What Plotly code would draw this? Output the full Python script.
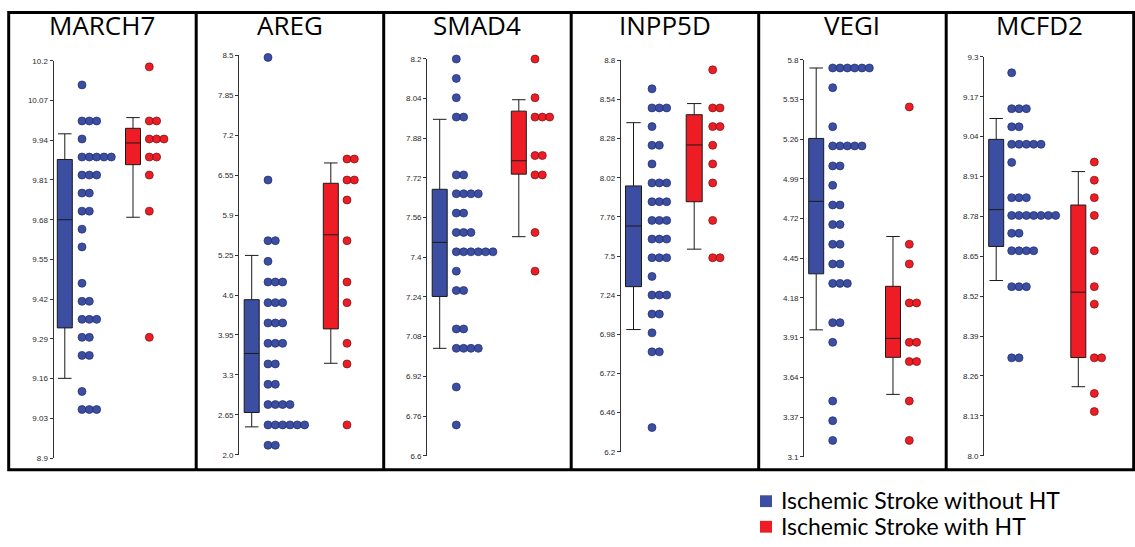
import plotly.graph_objects as go

W, H = 1135, 547

genes = ["MARCH7", "AREG", "SMAD4", "INPP5D", "VEGI", "MCFD2"]
legend_labels = ["Ischemic Stroke without HT", "Ischemic Stroke with HT"]

# ---- tick labels per gene ----
march7_ticks = ["8.9", "9.03", "9.16", "9.29", "9.42", "9.55", "9.68", "9.81", "9.94", "10.07", "10.2"]
areg_ticks = ["2.0", "2.65", "3.3", "3.95", "4.6", "5.25", "5.9", "6.55", "7.2", "7.85", "8.5"]
smad4_ticks = ["6.6", "6.76", "6.92", "7.08", "7.24", "7.4", "7.56", "7.72", "7.88", "8.04", "8.2"]
inpp5d_ticks = ["6.2", "6.46", "6.72", "6.98", "7.24", "7.5", "7.76", "8.02", "8.28", "8.54", "8.8"]
vegi_ticks = ["3.1", "3.37", "3.64", "3.91", "4.18", "4.45", "4.72", "4.99", "5.26", "5.53", "5.8"]
mcfd2_ticks = ["8.0", "8.13", "8.26", "8.39", "8.52", "8.65", "8.78", "8.91", "9.04", "9.17", "9.3"]

# ---- dot levels and counts (without HT / with HT) ----
march7_no_lv = [10.121, 10.003, 9.944, 9.885, 9.826, 9.767, 9.708, 9.649, 9.591, 9.472, 9.413, 9.354, 9.295, 9.236, 9.118, 9.059]
march7_no_ct = [1, 3, 1, 5, 3, 2, 2, 1, 1, 1, 2, 3, 2, 2, 1, 3]
march7_ht_lv = [10.180, 10.003, 9.944, 9.885, 9.826, 9.708, 9.295]
march7_ht_ct = [1, 2, 3, 2, 1, 1, 1]

areg_no_lv = [8.468, 6.472, 5.485, 5.149, 4.812, 4.476, 4.145, 3.814, 3.478, 3.147, 2.817, 2.486, 2.155]
areg_no_ct = [1, 1, 2, 1, 3, 3, 3, 3, 2, 2, 4, 6, 2]
areg_ht_lv = [6.814, 6.472, 6.147, 5.485, 4.812, 4.476, 3.814, 3.478, 2.486]
areg_ht_ct = [2, 2, 1, 1, 1, 1, 1, 1, 1]

smad4_no_lv = [8.199, 8.121, 8.043, 7.965, 7.732, 7.656, 7.578, 7.500, 7.422, 7.344, 7.266, 7.111, 7.033, 6.877, 6.724]
smad4_no_ct = [1, 1, 1, 2, 2, 4, 2, 3, 6, 1, 2, 2, 4, 1, 1]
smad4_ht_lv = [8.199, 8.043, 7.965, 7.810, 7.732, 7.500, 7.344]
smad4_ht_ct = [1, 1, 3, 2, 2, 1, 1]

inpp5d_no_lv = [8.611, 8.484, 8.360, 8.236, 8.112, 7.986, 7.861, 7.737, 7.613, 7.489, 7.365, 7.241, 7.115, 6.990, 6.864, 6.361]
inpp5d_no_ct = [1, 3, 1, 2, 1, 3, 3, 3, 3, 3, 1, 3, 2, 1, 2, 1]
inpp5d_ht_lv = [8.737, 8.484, 8.360, 8.236, 8.112, 7.986, 7.737, 7.489]
inpp5d_ht_ct = [1, 2, 2, 1, 1, 1, 1, 2]

vegi_no_lv = [5.744, 5.610, 5.345, 5.214, 5.078, 4.946, 4.812, 4.679, 4.545, 4.411, 4.279, 4.012, 3.878, 3.479, 3.345, 3.211]
vegi_no_ct = [6, 1, 1, 5, 2, 1, 2, 2, 2, 2, 3, 2, 1, 1, 1, 1]
vegi_ht_lv = [5.479, 4.545, 4.411, 4.146, 3.878, 3.747, 3.479, 3.211]
vegi_ht_ct = [1, 1, 1, 2, 2, 2, 1, 1]

mcfd2_no_lv = [9.248, 9.131, 9.072, 9.015, 8.956, 8.841, 8.783, 8.725, 8.668, 8.551, 8.319]
mcfd2_no_ct = [1, 3, 2, 5, 1, 3, 7, 2, 4, 3, 2]
mcfd2_ht_lv = [8.957, 8.898, 8.841, 8.783, 8.668, 8.551, 8.494, 8.319, 8.203, 8.144]
mcfd2_ht_ct = [1, 1, 1, 1, 1, 1, 1, 2, 1, 1]

# ---- box stats: lower whisker, q1, median, q3, upper whisker ----
march7_no_box = [9.161, 9.326, 9.680, 9.877, 9.961]
march7_ht_box = [9.688, 9.860, 9.931, 9.979, 10.014]
areg_no_box = [2.454, 2.688, 3.649, 4.524, 5.245]
areg_ht_box = [3.489, 4.049, 5.581, 6.419, 6.750]
smad4_no_box = [7.033, 7.242, 7.460, 7.674, 7.956]
smad4_ht_box = [7.483, 7.735, 7.789, 7.989, 8.035]
inpp5d_no_box = [7.012, 7.297, 7.700, 7.966, 8.386]
inpp5d_ht_box = [7.546, 7.861, 8.238, 8.439, 8.513]
vegi_no_box = [3.963, 4.344, 4.837, 5.265, 5.744]
vegi_ht_box = [3.524, 3.776, 3.905, 4.259, 4.598]
mcfd2_no_box = [8.571, 8.682, 8.802, 9.031, 9.099]
mcfd2_ht_box = [8.225, 8.320, 8.533, 8.817, 8.926]

panels = [
    (march7_ticks, march7_no_lv, march7_no_ct, march7_ht_lv, march7_ht_ct, march7_no_box, march7_ht_box),
    (areg_ticks, areg_no_lv, areg_no_ct, areg_ht_lv, areg_ht_ct, areg_no_box, areg_ht_box),
    (smad4_ticks, smad4_no_lv, smad4_no_ct, smad4_ht_lv, smad4_ht_ct, smad4_no_box, smad4_ht_box),
    (inpp5d_ticks, inpp5d_no_lv, inpp5d_no_ct, inpp5d_ht_lv, inpp5d_ht_ct, inpp5d_no_box, inpp5d_ht_box),
    (vegi_ticks, vegi_no_lv, vegi_no_ct, vegi_ht_lv, vegi_ht_ct, vegi_no_box, vegi_ht_box),
    (mcfd2_ticks, mcfd2_no_lv, mcfd2_no_ct, mcfd2_ht_lv, mcfd2_ht_ct, mcfd2_no_box, mcfd2_ht_box),
]

# ---- layout geometry (pixels) ----
panel_left = 8.7
panel_w = 187.5
axis_x = [53.7, 239.3, 427.3, 621.0, 804.3, 984.3]
y_top = [57.7, 52.3, 55.7, 57.3, 56.7, 53.7]
y_bot = [461.7, 458.3, 459.3, 455.3, 460.3, 459.3]
# offsets from the axis line: blue box, blue dots start, red box, red dots start
offs = [
    (11.1, 28.3, 79.3, 95.6),
    (12.4, 28.7, 91.5, 107.7),
    (12.4, 29.0, 91.5, 107.7),
    (12.5, 31.0, 73.2, 91.7),
    (11.9, 28.4, 88.7, 105.0),
    (11.9, 27.4, 94.0, 110.0),
]
box_w = [15, 15, 15, 16, 15, 15]
dot_step = 7.33
dot_size = 8.0

BLUE = "#3C4EA2"
BLUE_EDGE = "#1F2B6B"
RED = "#EE1D25"
RED_EDGE = "#6E1212"

def px_x(p):
    return p / W

def px_y(p):
    return 1 - p / H

fig = go.Figure()
layout_axes = {}
shapes = []
annotations = []

for i, (ticks, nlv, nct, hlv, hct, nbox, hbox) in enumerate(panels):
    k = "" if i == 0 else str(i + 1)
    xa, ya = "x" + k, "y" + k
    right = panel_left + (i + 1) * panel_w - 2
    width_px = right - axis_x[i]
    ob, od, orb, ord_ = offs[i]

    for (stats, cx, fill) in ((nbox, ob, BLUE), (hbox, orb, RED)):
        fig.add_trace(go.Box(
            x=[cx], lowerfence=[stats[0]], q1=[stats[1]], median=[stats[2]],
            q3=[stats[3]], upperfence=[stats[4]], width=box_w[i],
            fillcolor=fill, line=dict(color="#1a1a1a", width=1),
            whiskerwidth=0.9, boxpoints=False, showlegend=False,
            hoverinfo="skip", xaxis=xa, yaxis=ya))

    for (lv, ct, start, fill, edge) in ((nlv, nct, od, BLUE, BLUE_EDGE), (hlv, hct, ord_, RED, RED_EDGE)):
        xs, ys = [], []
        for v, c in zip(lv, ct):
            for j in range(c):
                xs.append(start + j * dot_step)
                ys.append(v)
        fig.add_trace(go.Scatter(
            x=xs, y=ys, mode="markers", showlegend=False, cliponaxis=False,
            marker=dict(size=dot_size, color=fill, line=dict(color=edge, width=0.7)),
            xaxis=xa, yaxis=ya))

    tickvals = [float(t) for t in ticks]
    layout_axes["xaxis" + k] = dict(
        domain=[px_x(axis_x[i]), px_x(right)], range=[0, width_px],
        visible=False, fixedrange=True, anchor=ya)
    layout_axes["yaxis" + k] = dict(
        domain=[px_y(y_bot[i]), px_y(y_top[i])], range=[tickvals[0], tickvals[-1]],
        tickvals=tickvals, ticktext=ticks, ticks="outside", ticklen=3,
        tickwidth=1, tickcolor="#333333", showline=True, linecolor="#333333",
        linewidth=1.3, showgrid=False, zeroline=False, anchor=xa,
        tickfont=dict(family="Liberation Sans, Arial", size=8, color="#2a2a2a"))

    cx_title = panel_left + (i + 0.5) * panel_w
    annotations.append(dict(
        text=genes[i], x=px_x(cx_title), y=px_y(21), xref="paper", yref="paper",
        xanchor="center", yanchor="middle", showarrow=False,
        font=dict(family="Open Sans", size=26, color="black")))

# frame
shapes.append(dict(type="rect", xref="paper", yref="paper",
                   x0=px_x(panel_left), x1=px_x(panel_left + 6 * panel_w),
                   y0=px_y(473.5), y1=px_y(8.7), line=dict(color="black", width=3)))
for i in range(1, 6):
    xp = px_x(panel_left + i * panel_w)
    shapes.append(dict(type="line", xref="paper", yref="paper", x0=xp, x1=xp,
                       y0=px_y(473.5), y1=px_y(8.7), line=dict(color="black", width=3)))

# legend
for j, (lab, col) in enumerate(zip(legend_labels, [BLUE, RED])):
    cy = 505.5 + j * 26
    shapes.append(dict(type="rect", xref="paper", yref="paper",
                       x0=px_x(760), x1=px_x(772), y0=px_y(cy + 6), y1=px_y(cy - 6),
                       fillcolor=col, line=dict(width=0)))
    annotations.append(dict(
        text=lab, x=px_x(779), y=px_y(cy - 1), xref="paper", yref="paper",
        xanchor="left", yanchor="middle", showarrow=False,
        font=dict(family="Lato", size=23, color="black")))

fig.update_layout(
    width=W, height=H, margin=dict(l=0, r=0, t=0, b=0),
    paper_bgcolor="white", plot_bgcolor="white",
    shapes=shapes, annotations=annotations, showlegend=False,
    **layout_axes)

fig.write_html("out.html", config={"displayModeBar": False},
               post_script="document.body.style.margin='0';document.body.style.overflow='hidden';")
